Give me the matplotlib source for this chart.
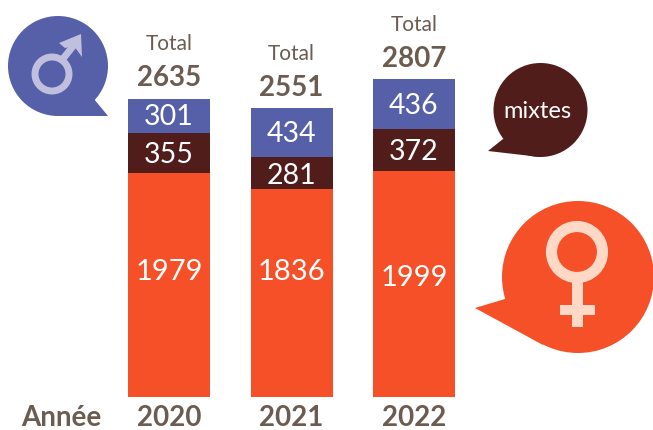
import matplotlib
matplotlib.use('Agg')
import matplotlib.pyplot as plt
import numpy as np
from matplotlib.patches import Circle, Polygon, Rectangle

plt.rcParams['font.family'] = ['Lato', 'DejaVu Sans']

years = ['2020', '2021', '2022']
femmes = [1979, 1836, 1999]
mixtes = [355, 281, 372]
hommes = [301, 434, 436]
totaux = [2635, 2551, 2807]

BLUE = '#5660A8'
DARK = '#501D1B'
ORANGE = '#F55028'
BROWN = '#6B5B50'
W, H = 653, 430

fig = plt.figure(figsize=(W / 100, H / 100), dpi=100)

# bars: baseline at y=397px, 0.1132 px per unit, bars 122.5px apart
ax = fig.add_axes([128 / W, (H - 397) / H, (455 - 128) / W, 340 / H])
ax.set_ylim(0, 340 / 0.1132)
ax.set_xlim(-41 / 122.5, 2 + 41 / 122.5)
x = np.arange(3)
fem = np.array(femmes)
mix = np.array(mixtes)
hom = np.array(hommes)
ax.bar(x, fem, 82 / 122.5, color=ORANGE)
ax.bar(x, mix, 82 / 122.5, bottom=fem, color=DARK)
ax.bar(x, hom, 82 / 122.5, bottom=fem + mix, color=BLUE)
ax.patch.set_alpha(0)
for s in ax.spines.values():
    s.set_visible(False)
ax.set_yticks([])
ax.set_xticks(x, years)
ax.tick_params(axis='x', length=0, pad=5.5, labelsize=20, labelcolor=BROWN)
for t in ax.get_xticklabels():
    t.set_fontweight('bold')

for i in x:
    ax.text(i, fem[i] + mix[i] / 2, str(mixtes[i]), ha='center', va='center_baseline',
            color='white', fontsize=20.5)
    ax.text(i, fem[i] + mix[i] + hom[i] / 2 + 8, str(hommes[i]), ha='center', va='center_baseline',
            color='white', fontsize=20.5)
    top = fem[i] + mix[i] + hom[i]
    ax.annotate(str(totaux[i]), (i, top), xytext=(0, 16.5), textcoords='offset points',
                ha='center', va='center_baseline', color=BROWN, fontsize=20, fontweight='bold')
    ax.annotate('Total', (i, top), xytext=(0, 40.5), textcoords='offset points',
                ha='center', va='center_baseline', color=BROWN, fontsize=15,
                annotation_clip=False)

# overlay in pixel coordinates for the bubbles
ov = fig.add_axes([0, 0, 1, 1])
ov.set_xlim(0, W)
ov.set_ylim(H, 0)
ov.axis('off')
ov.patch.set_alpha(0)

for xx, yy, v in zip([169, 291, 414], [270, 270, 276], femmes):
    ov.text(xx, yy, str(v), ha='center', va='center_baseline', color='white', fontsize=21)

ov.text(61, 415.5, 'Année', ha='center', va='center_baseline', color=BROWN,
        fontsize=20, fontweight='bold')

# male bubble
ov.add_patch(Circle((58, 66), 50, fc=BLUE, ec='none'))
ov.add_patch(Polygon([(94, 99), (108, 116), (58, 116)], fc=BLUE, ec='none'))
ml = '#C0BFDE'
ov.add_patch(Circle((52, 74), 17, fc='none', ec=ml, lw=5))
ov.plot([62, 74], [60, 45], color=ml, lw=5, solid_capstyle='butt')
ov.add_patch(Polygon([(59, 43), (81, 34), (82, 57), (74, 46), (65, 48)], fc=ml, ec='none'))

# mixtes bubble
ov.add_patch(Circle((540.5, 110), 47, fc=DARK, ec='none'))
ov.add_patch(Polygon([(488, 151), (503, 139), (530, 130), (540, 157)], fc=DARK, ec='none'))
ov.text(537, 109, 'mixtes', ha='center', va='center_baseline', color='white', fontsize=17)

# female bubble
ov.add_patch(Circle((578, 277), 76, fc=ORANGE, ec='none'))
ov.add_patch(Polygon([(475, 308), (505, 299), (560, 290), (543, 345)], fc=ORANGE, ec='none'))
fl = '#FFD8C6'
ov.add_patch(Circle((577, 252), 25.5, fc='none', ec=fl, lw=8))
ov.add_patch(Rectangle((571.5, 280), 11.5, 47, fc=fl, ec='none'))
ov.add_patch(Rectangle((560, 305), 35, 10, fc=fl, ec='none'))

fig.savefig('out.png', dpi=100)
